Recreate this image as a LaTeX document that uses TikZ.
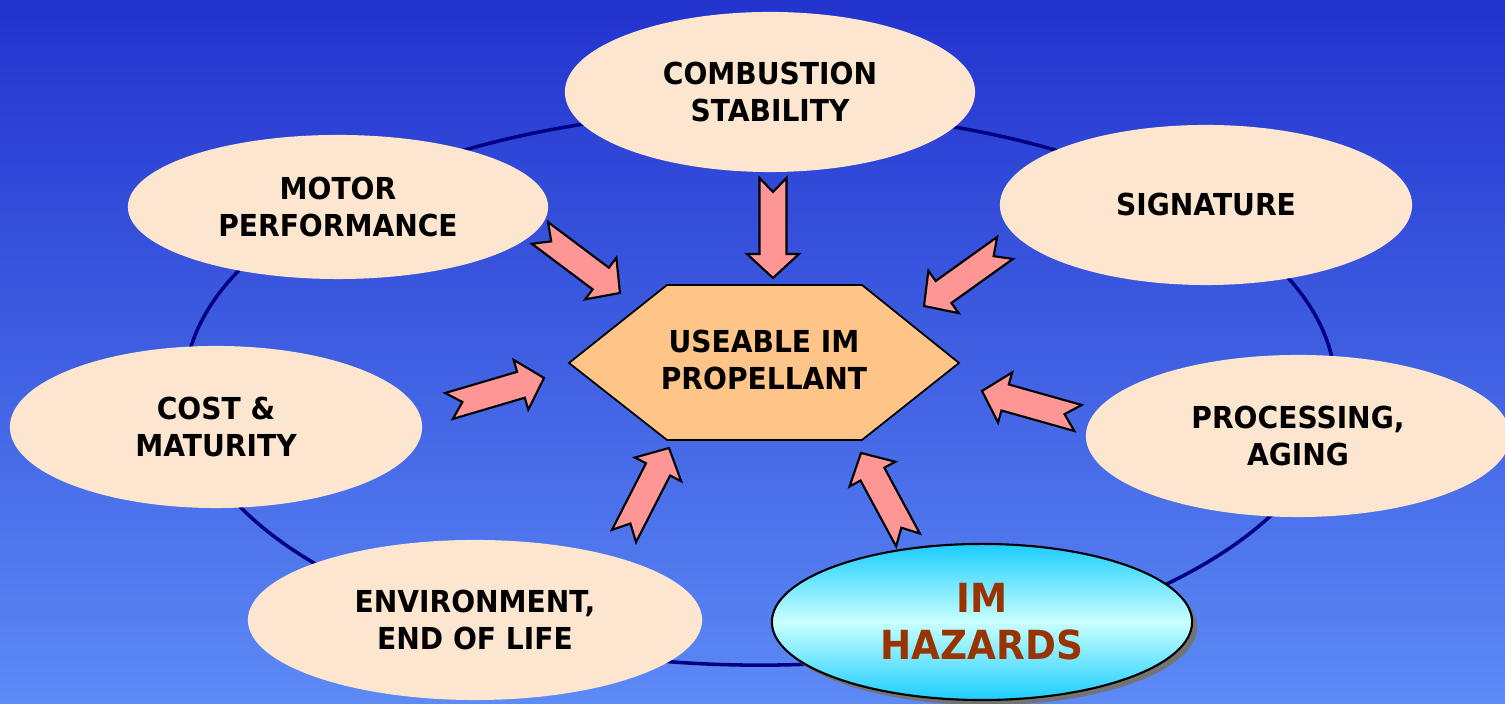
\documentclass[tikz,border=0pt]{standalone}
\usepackage{fontspec}
\setmainfont{DejaVu Sans}[FakeStretch=0.93]
\usepackage{xcolor}
\usetikzlibrary{shapes.geometric,calc,shadows}

\definecolor{bgtop}{RGB}{34,51,206}
\definecolor{bgbot}{RGB}{92,138,246}
\definecolor{peach}{RGB}{253,230,207}
\definecolor{hexorange}{RGB}{255,196,136}
\definecolor{arrowpink}{RGB}{255,150,150}
\definecolor{ringblue}{RGB}{0,0,130}
\definecolor{hazcyan}{RGB}{28,205,255}
\definecolor{hazlight}{RGB}{200,255,255}
\definecolor{hazred}{RGB}{153,51,0}

\begin{document}
\begin{tikzpicture}[x=0.01cm,y=0.01cm]
  \tikzset{topic/.style = {shape=ellipse,fill=peach,inner sep=0pt,align=center,
      font=\bfseries\fontsize{8.6}{10.8}\selectfont}}
  \tikzset{hazard/.style = {shape=ellipse,draw=black,line width=0.6pt,inner sep=0pt,align=center,
      top color=hazcyan,bottom color=hazcyan,middle color=hazlight,text=hazred,
      drop shadow={shadow xshift=0.05cm,shadow yshift=-0.05cm,fill=black!55,opacity=1},
      font=\bfseries\fontsize{11.4}{13.4}\selectfont}}
  \tikzset{core/.style = {align=center,font=\bfseries\fontsize{8.6}{10.8}\selectfont}}
  \tikzset{hexface/.style = {fill=hexorange,draw=black,line width=0.5pt}}
  \tikzset{ring/.style = {draw=ringblue,line width=1pt}}
  \tikzset{fatarrow/.style = {fill=arrowpink,draw=black,line width=0.6pt,line join=miter}}

  % backdrop
  \fill[top color=bgtop,bottom color=bgbot] (0,0) rectangle (1505,704);
  \useasboundingbox (0,0) rectangle (1505,704);

  \draw[ring] (760,316) ellipse [x radius=5.75cm,y radius=2.77cm];

  % the seven concerns
  \node[topic,minimum width=4.1cm,minimum height=1.6cm] (comb) at (770,612) {COMBUSTION\\STABILITY};
  \node[topic,minimum width=4.2cm,minimum height=1.44cm] (motor) at (338,497) {MOTOR\\PERFORMANCE};
  \node[topic,minimum width=4.12cm,minimum height=1.6cm] (sig) at (1206,499) {SIGNATURE};
  \node[topic,minimum width=4.12cm,minimum height=1.62cm] (cost) at (216,277) {COST \&\\MATURITY};
  \node[topic,minimum width=4.24cm,minimum height=1.62cm] (proc) at (1298,268) {PROCESSING,\\AGING};
  \node[topic,minimum width=4.54cm,minimum height=1.6cm] (env) at (475,84) {ENVIRONMENT,\\END OF LIFE};
  \node[hazard,minimum width=4.2cm,minimum height=1.56cm] (haz) at (982,82) {IM\\HAZARDS};

  % centre hexagon
  \draw[hexface] (569,341) -- (667,419) -- (862,419) -- (959,341) -- (862,264) -- (667,264) -- cycle;
  \node[core] (prop) at (764,344) {USEABLE IM\\PROPELLANT};

  % arrow tails and heads
  \coordinate (comb-t) at (773,526);  \coordinate (comb-h) at (773,426);
  \coordinate (motor-t) at (540,471); \coordinate (motor-h) at (620,411);
  \coordinate (sig-t) at (1005,456);  \coordinate (sig-h) at (924,398);
  \coordinate (cost-t) at (449,298);  \coordinate (cost-h) at (544,326);
  \coordinate (proc-t) at (1078,286); \coordinate (proc-h) at (982,313);
  \coordinate (env-t) at (624,168);   \coordinate (env-h) at (669,256);
  \coordinate (haz-t) at (908,164);   \coordinate (haz-h) at (861,251);

  \foreach \from/\to in {comb-t/comb-h, motor-t/motor-h, sig-t/sig-h, cost-t/cost-h,
                         proc-t/proc-h, env-t/env-h, haz-t/haz-h}
    \draw[fatarrow] let \p1=(\from), \p2=(\to),
        \n1={atan2(\y2-\y1,\x2-\x1)}, \n2={veclen(\x2-\x1,\y2-\y1)} in
      {[shift={(\p1)},rotate=\n1]
        (0cm,0.135cm) -- (\n2-0.24cm,0.135cm) -- (\n2-0.24cm,0.26cm) -- (\n2,0cm)
        -- (\n2-0.24cm,-0.26cm) -- (\n2-0.24cm,-0.135cm) -- (0cm,-0.135cm) -- (0.14cm,0cm) -- cycle};

\end{tikzpicture}
\end{document}
